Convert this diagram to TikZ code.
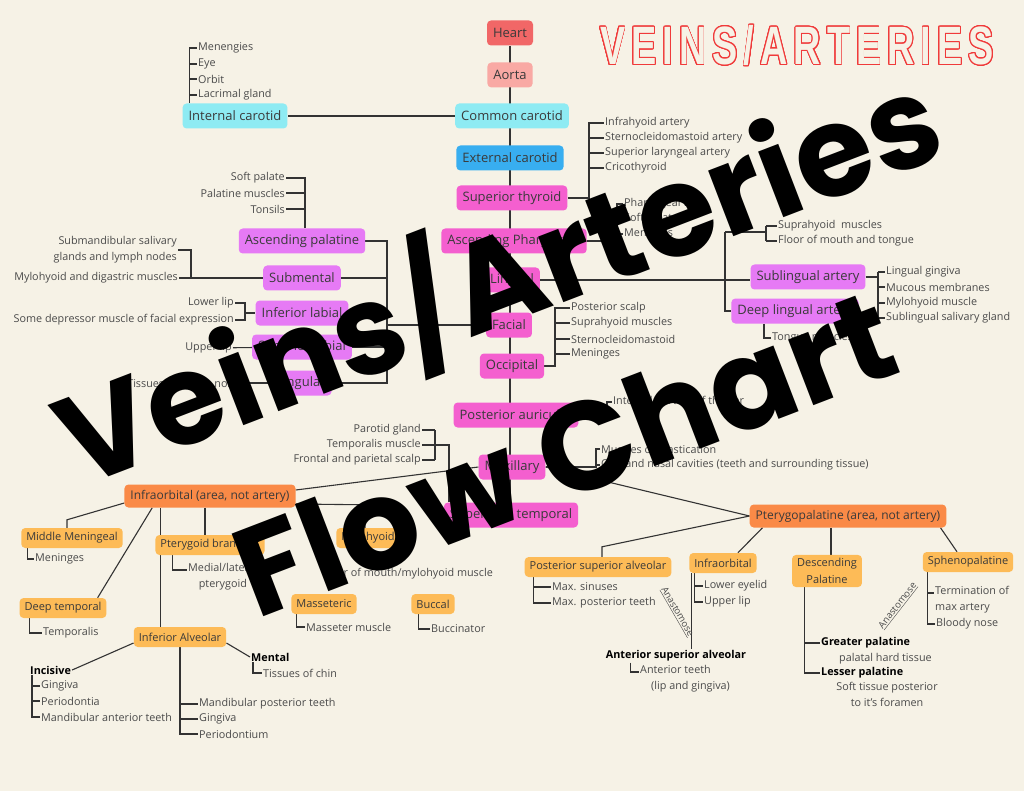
\documentclass[tikz,border=0pt]{standalone}
\usepackage{fontspec}
\usepackage{graphicx}
\usepackage{contour}
\setmainfont{Open Sans}
\newfontfamily\stampfont{Poppins}
\newfontfamily\titlefont{Liberation Sans}[LetterSpace=16]

\definecolor{paper}{HTML}{F6F2E6}
\definecolor{wirec}{HTML}{333333}
\definecolor{boxtxt}{HTML}{3A3A3A}
\definecolor{leaftxt}{HTML}{4A4A4A}
\definecolor{heartc}{HTML}{F16767}
\definecolor{aortac}{HTML}{F9A9A4}
\definecolor{cyanc}{HTML}{8EEBF3}
\definecolor{bluec}{HTML}{38AEF0}
\definecolor{magc}{HTML}{F45FCF}
\definecolor{violc}{HTML}{E67AF5}
\definecolor{areac}{HTML}{FA8A47}
\definecolor{orangec}{HTML}{FDBB57}
\definecolor{titlec}{HTML}{F03A3A}

\contourlength{1.1pt}
\contournumber{24}

\pgfdeclarelayer{bg}
\pgfsetlayers{bg,main}

\begin{document}
\begin{tikzpicture}[x = 1pt, y = -1pt,
    wire/.style = {draw=wirec, line width=1.1pt},
    artery/.style = {rounded corners=4pt,
                     inner xsep=6pt,
                     minimum height=25pt,
                     text=boxtxt,
                     font=\fontsize{13}{15}\selectfont},
    areabox/.style = {artery, fill=areac, minimum height=23pt,
                      font=\fontsize{12}{14}\selectfont},
    branch/.style = {artery, fill=orangec, minimum height=20pt,
                     inner xsep=5pt, font=\fontsize{11}{13}\selectfont},
    leaf/.style = {inner sep=1pt, text=leaftxt,
                   font=\fontsize{10.8}{16}\selectfont},
    bleaf/.style = {leaf, text=black,
                    font=\fontsize{10.8}{16}\selectfont\bfseries},
    anast/.style = {inner sep=1pt, text=leaftxt,
                    font=\fontsize{9.5}{11}\selectfont}]

  \useasboundingbox (0,0) rectangle (1024,791);

  % Title
  \node (title) at (797,46)
    {\titlefont\bfseries\fontsize{54}{54}\selectfont\scalebox{0.7}[1]{\contour{titlec}{\textcolor{paper}{VEINS/ARTERIES}}}};

  % Main chain
  \node[artery, fill=heartc] (heart) at (510,33) {Heart};
  \node[artery, fill=aortac] (aorta) at (510,75) {Aorta};
  \node[artery, fill=cyanc] (comcar) at (512,116) {Common carotid};
  \node[artery, fill=bluec] (extcar) at (510,158) {External carotid};
  \node[artery, fill=magc] (supthy) at (512,198) {Superior thyroid};
  \node[artery, fill=magc] (ascphar) at (514,241) {Ascending Pharyngeal};
  \node[artery, fill=magc] (lingual) at (512,280) {Lingual};
  \node[artery, fill=magc] (facial) at (509,325) {Facial};
  \node[artery, fill=magc] (occip) at (512,366) {Occipital};
  \node[artery, fill=magc] (postaur) at (516,415) {Posterior auricular};
  \node[artery, fill=magc] (maxil) at (512,467) {Maxillary};
  \node[artery, fill=magc] (suptemp) at (511,515) {Superficial temporal};

  % Internal carotid
  \node[artery, fill=cyanc] (intcar) at (235,116) {Internal carotid};
  \node[leaf, anchor=west] (ic1) at (197,48) {Menengies};
  \node[leaf, anchor=west] (ic2) at (197,64) {Eye};
  \node[leaf, anchor=west] (ic3) at (197,79) {Orbit};
  \node[leaf, anchor=west] (ic4) at (197,95) {Lacrimal gland};

  % Superior thyroid
  \node[leaf, anchor=west] (st1) at (604,123) {Infrahyoid artery};
  \node[leaf, anchor=west] (st2) at (604,138) {Sternocleidomastoid artery};
  \node[leaf, anchor=west] (st3) at (604,153) {Superior laryngeal artery};
  \node[leaf, anchor=west] (st4) at (604,168) {Cricothyroid};

  % Ascending pharyngeal
  \node[leaf, anchor=west] (ap1) at (623,204) {Pharyngeal wall};
  \node[leaf, anchor=west] (ap2) at (623,219) {Soft palate};
  \node[leaf, anchor=west] (ap3) at (623,234) {Meninges};

  % Lingual
  \node[artery, fill=violc] (sublin) at (808,277) {Sublingual artery};
  \node[artery, fill=violc] (deeplin) at (795,311) {Deep lingual artery};
  \node[leaf, anchor=west] (sh1) at (777,226) {Suprahyoid\ \ muscles};
  \node[leaf, anchor=west] (sh2) at (777,241) {Floor of mouth and tongue};
  \node[leaf, anchor=west] (sl1) at (885,272) {Lingual gingiva};
  \node[leaf, anchor=west] (sl2) at (885,287) {Mucous membranes};
  \node[leaf, anchor=west] (sl3) at (885,303) {Mylohyoid muscle};
  \node[leaf, anchor=west] (sl4) at (885,318) {Sublingual salivary gland};
  \node[leaf, anchor=west] (tm1) at (771,338) {Tongue muscles};

  % Facial
  \node[artery, fill=violc] (ascpal) at (302,241) {Ascending palatine};
  \node[artery, fill=violc] (submental) at (302,278) {Submental};
  \node[artery, fill=violc] (inflab) at (302,313) {Inferior labial};
  \node[artery, fill=violc] (suplab) at (302,347) {Superior labial};
  \node[artery, fill=violc] (angular) at (302,383) {Angular};
  \node[leaf, anchor=east] (pl1) at (286,178) {Soft palate};
  \node[leaf, anchor=east] (pl2) at (286,193) {Palatine muscles};
  \node[leaf, anchor=east] (pl3) at (286,209) {Tonsils};
  \node[leaf, anchor=east, align=right] (sm1) at (178,250) {Submandibular salivary\\glands and lymph nodes};
  \node[leaf, anchor=east] (sm2) at (179,278) {Mylohyoid and digastric muscles};
  \node[leaf, anchor=east] (il1) at (235,303) {Lower lip};
  \node[leaf, anchor=east] (il2) at (235,320) {Some depressor muscle of facial expression};
  \node[leaf, anchor=east] (ul1) at (233,348) {Upper lip};
  \node[leaf, anchor=east] (tn1) at (240,383) {Tissues lateral to nose};

  % Occipital
  \node[leaf, anchor=west] (oc1) at (570,308) {Posterior scalp};
  \node[leaf, anchor=west] (oc2) at (570,323) {Suprahyoid muscles};
  \node[leaf, anchor=west] (oc3) at (570,339) {Sternocleidomastoid};
  \node[leaf, anchor=west] (oc4) at (570,354) {Meninges};

  % Posterior auricular
  \node[leaf, anchor=west] (pa1) at (612,402) {Internal portion of the ear};

  % Maxillary
  \node[leaf, anchor=west] (mx1) at (600,449) {Muscles of mastication};
  \node[leaf, anchor=west] (mx2) at (600,465) {Oral and nasal cavities (teeth and surrounding tissue)};

  % Superficial temporal
  \node[leaf, anchor=east] (stp1) at (422,430) {Parotid gland};
  \node[leaf, anchor=east] (stp2) at (422,445) {Temporalis muscle};
  \node[leaf, anchor=east] (stp3) at (422,460) {Frontal and parietal scalp};

  % Infraorbital (area)
  \node[areabox] (infarea) at (210,496) {Infraorbital (area, not artery)};
  \node[branch] (midmen) at (72,538) {Middle Meningeal};
  \node[branch] (deeptemp) at (63,608) {Deep temporal};
  \node[branch] (ptbr) at (210,545) {Pterygoid branches};
  \node[branch] (mylo) at (368,538) {Mylohyoid};
  \node[branch] (masset) at (324,604) {Masseteric};
  \node[branch] (buccal) at (433,604) {Buccal};
  \node[branch] (infalv) at (180,637) {Inferior Alveolar};
  \node[leaf, anchor=west] (mm1) at (34,559) {Meninges};
  \node[leaf, anchor=west] (dt1) at (42,633) {Temporalis};
  \node[leaf, anchor=north west, align=center] (pb1) at (187,562) {Medial/lateral\\pterygoid};
  \node[leaf, anchor=east] (my1) at (494,574) {Floor of mouth/mylohyoid muscle};
  \node[leaf, anchor=west] (ms1) at (305,627) {Masseter muscle};
  \node[leaf, anchor=west] (bc1) at (430,629) {Buccinator};

  % Inferior alveolar
  \node[bleaf, anchor=west] (inc) at (29,670) {Incisive};
  \node[leaf, anchor=west] (in1) at (40,686) {Gingiva};
  \node[leaf, anchor=west] (in2) at (40,701) {Periodontia};
  \node[leaf, anchor=west] (in3) at (40,717) {Mandibular anterior teeth};
  \node[bleaf, anchor=west] (ment) at (250,657) {Mental};
  \node[leaf, anchor=west] (mt1) at (262,673) {Tissues of chin};
  \node[leaf, anchor=west] (ia1) at (198,704) {Mandibular posterior teeth};
  \node[leaf, anchor=west] (ia2) at (198,719) {Gingiva};
  \node[leaf, anchor=west] (ia3) at (198,734) {Periodontium};

  % Pterygopalatine (area)
  \node[areabox] (ptarea) at (848,516) {Pterygopalatine (area, not artery)};
  \node[branch] (psa) at (598,567) {Posterior superior alveolar};
  \node[branch] (infraorb) at (723,563) {Infraorbital};
  \node[branch, align=center, font=\fontsize{11}{17}\selectfont] (descpal) at (827,571) {Descending\\Palatine};
  \node[branch] (spheno) at (968,562) {Sphenopalatine};
  \node[leaf, anchor=west] (ps1) at (551,587) {Max. sinuses};
  \node[leaf, anchor=west] (ps2) at (551,603) {Max. posterior teeth};
  \node[leaf, anchor=west] (io1) at (703,586) {Lower eyelid};
  \node[leaf, anchor=west] (io2) at (703,602) {Upper lip};
  \node[bleaf] (asa) at (676,656) {Anterior superior alveolar};
  \node[leaf, anchor=north west, align=left] (as1) at (639,664) {Anterior teeth\\\hspace*{11pt}(lip and gingiva)};
  \node[bleaf, anchor=west] (gp) at (820,643) {Greater palatine};
  \node[leaf, anchor=west] (gp1) at (838,659) {palatal hard tissue};
  \node[bleaf, anchor=west] (lp) at (820,673) {Lesser palatine};
  \node[leaf, anchor=north, align=center] (lp1) at (887,681) {Soft tissue posterior\\to it's foramen};
  \node[leaf, anchor=north west, align=left] (sp1) at (934,585) {Termination of\\max artery};
  \node[leaf, anchor=west] (sp2) at (935,624) {Bloody nose};
  \node[anast, rotate=-60] (an1) at (677,612) {\underline{Anastomose}};
  \node[anast, rotate=52] (an2) at (898,606) {\underline{Anastomose}};

  % Connectors
  \begin{pgfonlayer}{bg}
    \fill[paper] (0,0) rectangle (1024,791);

    % Trunk
    \draw[wire] (heart) -- (heart |- suptemp);
    \draw[wire] (comcar) -- (intcar);

    % Internal carotid bracket
    \coordinate (icb) at ([xshift=7pt]intcar.north west);
    \draw[wire] (icb) |- (ic1.west);
    \draw[wire] (icb |- ic2.west) -- (ic2.west);
    \draw[wire] (icb |- ic3.west) -- (ic3.west);
    \draw[wire] (icb |- ic4.west) -- (ic4.west);

    % Superior thyroid bracket
    \coordinate (stb) at (589,0);
    \draw[wire] (supthy) -- (stb |- supthy) |- (st1.west);
    \draw[wire] (stb |- st2.west) -- (st2.west);
    \draw[wire] (stb |- st3.west) -- (st3.west);
    \draw[wire] (stb |- st4.west) -- (st4.west);

    % Ascending pharyngeal bracket
    \coordinate (apb) at (617,0);
    \draw[wire] (ascphar) -- (apb |- ascphar) |- (ap1.west);
    \draw[wire] (apb |- ap2.west) -- (ap2.west);
    \draw[wire] (apb |- ap3.west) -- (ap3.west);

    % Lingual
    \draw[wire] (lingual) -- (lingual -| sublin.west);
    \coordinate (lgb) at (725,232);
    \coordinate (shb) at (766,232);
    \draw[wire] (lgb) |- (deeplin);
    \draw[wire] (lgb) -- (shb);
    \draw[wire] (shb |- sh1.west) -- (shb |- sh2.west);
    \draw[wire] (shb |- sh1.west) -- (sh1.west);
    \draw[wire] (shb |- sh2.west) -- (sh2.west);
    \coordinate (slb) at (878,0);
    \draw[wire] (sublin) -- (slb |- sublin);
    \draw[wire] (slb |- sl1.west) -- (slb |- sl4.west);
    \draw[wire] (slb |- sl1.west) -- (sl1.west);
    \draw[wire] (slb |- sl2.west) -- (sl2.west);
    \draw[wire] (slb |- sl3.west) -- (sl3.west);
    \draw[wire] (slb |- sl4.west) -- (sl4.west);
    \coordinate (tmb) at (764,0);
    \draw[wire] (tmb |- deeplin.south) |- (tm1.west);

    % Facial bus
    \coordinate (fbus) at (387,0);
    \draw[wire] (facial) -- (fbus |- facial);
    \draw[wire] (ascpal) -- (fbus |- ascpal) -- (fbus |- angular) -- (angular);
    \draw[wire] (submental) -- (fbus |- submental);
    \draw[wire] (inflab) -- (fbus |- inflab);
    \draw[wire] (suplab) -- (fbus |- suplab);
    \coordinate (plb) at ([xshift=3pt]ascpal.north);
    \draw[wire] (plb) |- (pl1.east);
    \draw[wire] (plb |- pl2.east) -- (pl2.east);
    \draw[wire] (plb |- pl3.east) -- (pl3.east);
    \coordinate (smb) at (191,0);
    \draw[wire] (submental) -- (sm2);
    \draw[wire] (smb |- sm2.east) |- (sm1.east);
    \coordinate (ilb) at (245,0);
    \draw[wire] (il1.east) -- (ilb |- il1.east) -- (ilb |- il2.east) -- (il2.east);
    \draw[wire] (ilb |- inflab.west) -- (inflab.west);
    \draw[wire] (ul1) -- (suplab);
    \draw[wire] (tn1) -- (angular);

    % Occipital bracket
    \coordinate (ocb) at (555,0);
    \draw[wire] (occip) -- (ocb |- occip) |- (oc1.west);
    \draw[wire] (ocb |- oc2.west) -- (oc2.west);
    \draw[wire] (ocb |- oc3.west) -- (oc3.west);
    \draw[wire] (ocb |- oc4.west) -- (oc4.west);

    % Posterior auricular
    \coordinate (pab) at (607,0);
    \draw[wire] (postaur) -- (pab |- postaur) |- (pa1.west);

    % Maxillary
    \coordinate (mxb) at (596,0);
    \draw[wire] (maxil.east) -- (mxb |- maxil.east) |- (mx1.west);
    \draw[wire] (mxb |- mx2.west) -- (mx2.west);
    \draw[wire] (maxil.west) -- ([yshift=6pt]infarea.east);
    \draw[wire] (maxil.east) -- (ptarea.west);

    % Superficial temporal
    \coordinate (stpb) at (435,0);
    \coordinate (stpk) at (449,445);
    \draw[wire] (stpb |- stp1.east) -- (stpb |- stp3.east);
    \draw[wire] (stp1.east) -- (stpb |- stp1.east);
    \draw[wire] (stp3.east) -- (stpb |- stp3.east);
    \draw[wire] (stp2.east) -- (stpk) -- (stpk |- suptemp.north);

    % Infraorbital (area) branches
    \draw[wire] ([yshift=-7pt]infarea.west) -- ([xshift=-5pt,yshift=8pt]midmen.north) -- ([xshift=-5pt]midmen.north);
    \draw[wire] ([xshift=28pt]infarea.south west) -- ([xshift=-9pt]deeptemp.north east);
    \draw[wire] ([xshift=36pt]infarea.south west) -- ([xshift=36pt]infarea.south west |- infalv.north);
    \draw[wire] ([xshift=-5pt]infarea.south) -- ([xshift=-5pt]infarea.south |- ptbr.north);
    \draw[wire] ([yshift=-8pt]infarea.east) -- ([xshift=-3pt,yshift=23pt]mylo.north) -- ([xshift=-3pt]mylo.north);
    \draw[wire] ([xshift=6pt]midmen.south west) |- (mm1.west);
    \draw[wire] ([xshift=10pt]deeptemp.south west) |- (dt1.west);
    \coordinate (pb1t) at ([yshift=-8pt]pb1.north west);
    \draw[wire] ([xshift=17pt]ptbr.south west) |- (pb1t);
    \draw[wire] ([xshift=5pt]masset.south west) |- (ms1.west);
    \draw[wire] ([xshift=7pt]buccal.south west) |- (bc1.west);

    % Inferior alveolar branches
    \draw[wire] ([yshift=-6pt]infalv.west) -- (inc.east);
    \coordinate (incb) at ([xshift=3pt]inc.south west);
    \draw[wire] (incb) |- (in3.west);
    \draw[wire] (incb |- in1.west) -- (in1.west);
    \draw[wire] (incb |- in2.west) -- (in2.west);
    \draw[wire] ([yshift=-6pt]infalv.east) -- (ment.west);
    \draw[wire] ([xshift=3pt]ment.south west) |- (mt1.west);
    \draw[wire] (infalv.south) |- (ia3.west);
    \draw[wire] (infalv.south |- ia1.west) -- (ia1.west);
    \draw[wire] (infalv.south |- ia2.west) -- (ia2.west);

    % Pterygopalatine (area) branches
    \draw[wire] (ptarea.west) -- ([xshift=4pt,yshift=10pt]psa.north) -- ([xshift=4pt]psa.north);
    \draw[wire] ([xshift=13pt]ptarea.south west) -- ([xshift=-19pt]infraorb.north east);
    \draw[wire] ([xshift=-17pt]ptarea.south) -- ([xshift=-17pt]ptarea.south |- descpal.north);
    \draw[wire] ([xshift=-6pt]ptarea.south east) -- ([xshift=-11pt]spheno.north);
    \coordinate (psb) at ([xshift=9pt]psa.south west);
    \draw[wire] (psb) |- (ps2.west);
    \draw[wire] (psb |- ps1.west) -- (ps1.west);
    \coordinate (iob) at ([xshift=5pt]infraorb.south west);
    \draw[wire] (iob) |- (io2.west);
    \draw[wire] (iob |- io1.west) -- (io1.west);
    \draw[wire] ([xshift=2pt]infraorb.south west) -- ([xshift=2pt]infraorb.south west |- asa.north);
    \coordinate (as1t) at ([yshift=-8pt]as1.north west);
    \draw[wire] ([xshift=26pt]asa.south west) |- (as1t);
    \coordinate (dpb) at ([xshift=13pt]descpal.south west);
    \draw[wire] (dpb) |- (lp.west);
    \draw[wire] (dpb |- gp.west) -- (gp.west);
    \coordinate (spb) at ([xshift=5pt]spheno.south west);
    \coordinate (sp1t) at ([yshift=-8pt]sp1.north west);
    \draw[wire] (spb) |- (sp2.west);
    \draw[wire] (spb |- sp1t) -- (sp1t);
  \end{pgfonlayer}

  % Stamp
  \node[rotate=21, align=center, text=black,
        font=\stampfont\bfseries\fontsize{126}{186}\selectfont] (stamp) at (526,353) {Veins/Arteries\\Flow Chart};

\end{tikzpicture}
\end{document}
